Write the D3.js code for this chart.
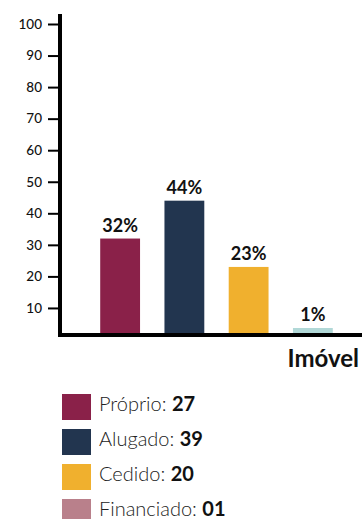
<!DOCTYPE html>
<html><head><meta charset="utf-8">
<script src="https://cdn.jsdelivr.net/npm/d3@7"></script>
<style>body{margin:0;background:#fff}svg{display:block;font-family:Lato,"Noto Sans",sans-serif}</style>
</head><body>
<svg id="c" width="362" height="519"></svg>
<script>
const categories = ["Próprio", "Alugado", "Cedido", "Financiado"];
const percents = [32, 44, 23, 1];
const counts = ["27", "39", "20", "01"];
const barColors = ["#8a2149", "#22354f", "#f0b02e", "#b1d8d7"];
const legendColors = ["#8a2149", "#22354f", "#f0b02e", "#b9808b"];
const yTicks = [10, 20, 30, 40, 50, 60, 70, 80, 90, 100];
const axisTitle = "Imóvel";

const svg = d3.select("#c");
const y = d3.scaleLinear().domain([0, 100]).range([339.5, 24]);
const x = d3.scaleBand().domain(categories).range([88, 345]).paddingInner(0.38).paddingOuter(0.19);
const baseY = 335;
const minH = 7;

// bars
svg.selectAll("rect.bar").data(percents).join("rect")
  .attr("x", (d, i) => x(categories[i]))
  .attr("width", x.bandwidth())
  .attr("y", d => Math.min(y(d), baseY - minH))
  .attr("height", d => baseY - Math.min(y(d), baseY - minH))
  .attr("fill", (d, i) => barColors[i]);

// value labels
svg.selectAll("text.val").data(percents).join("text")
  .attr("x", (d, i) => x(categories[i]) + x.bandwidth() / 2)
  .attr("y", d => Math.min(y(d), baseY - minH) - 7)
  .attr("text-anchor", "middle")
  .attr("font-weight", "bold").attr("font-size", 18).attr("fill", "#111")
  .text(d => d + "%");

// y axis
const ya = svg.append("g").attr("transform", "translate(58,0)")
  .call(d3.axisLeft(y).tickValues(yTicks).tickSize(10).tickPadding(6));
ya.select(".domain").remove();
ya.selectAll(".tick line").attr("stroke", "#000").attr("stroke-width", 2);
ya.selectAll(".tick text").attr("font-size", 13.5).attr("fill", "#111").attr("font-weight", 500)
  .attr("font-family", "Lato,'Noto Sans',sans-serif");

svg.append("line").attr("x1", 60).attr("x2", 60).attr("y1", 14).attr("y2", 337)
  .attr("stroke", "#000").attr("stroke-width", 4);
svg.append("line").attr("x1", 58).attr("x2", 362).attr("y1", baseY).attr("y2", baseY)
  .attr("stroke", "#000").attr("stroke-width", 4);

svg.append("text").attr("x", 359).attr("y", 367).attr("text-anchor", "end")
  .attr("font-weight", "bold").attr("font-size", 24).attr("fill", "#111").text(axisTitle);

// legend
const lg = svg.append("g");
const rows = lg.selectAll("g").data(categories).join("g")
  .attr("transform", (d, i) => `translate(62,${394 + i * 35})`);
rows.append("rect").attr("width", 29).attr("height", 26).attr("fill", (d, i) => legendColors[i]);
const t = rows.append("text").attr("x", 37).attr("y", 17).attr("font-size", 20).attr("fill", "#222");
t.append("tspan").attr("font-weight", 300).text(d => d + ": ");
t.append("tspan").attr("font-weight", "bold").attr("fill", "#111").text((d, i) => counts[i]);
</script>
</body></html>
